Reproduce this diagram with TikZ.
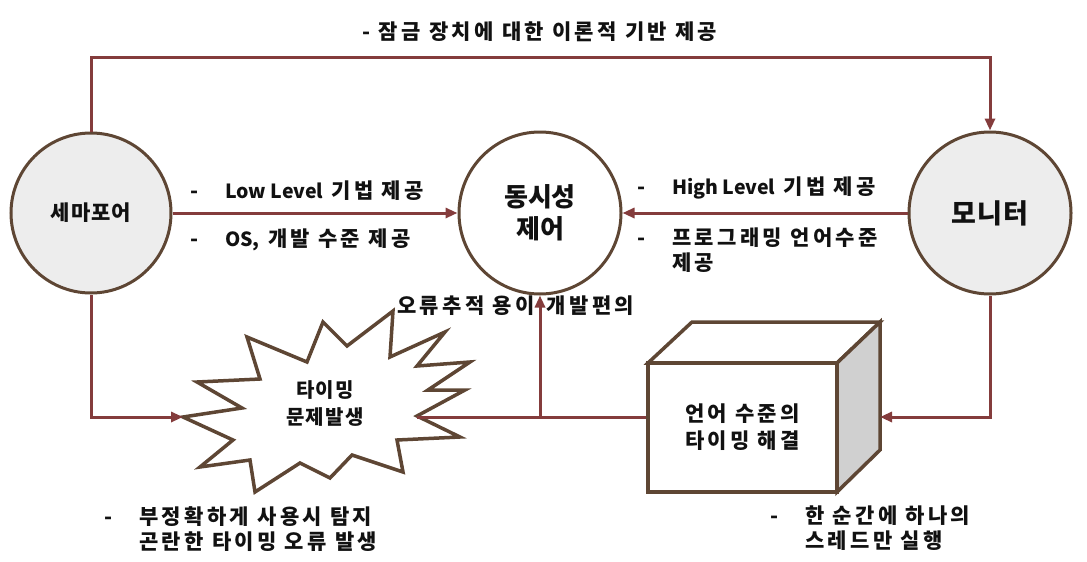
\documentclass[tikz,border=0pt]{standalone}
\usepackage{fontspec}
\setmainfont{Noto Sans CJK KR}
\newfontfamily\latfont{Noto Sans CJK KR}
\newcommand\lat[1]{{\latfont\bfseries\fontsize{19.5}{25}\selectfont #1}}
\usetikzlibrary{arrows.meta}
\definecolor{conn}{HTML}{843C3C}
\definecolor{edge}{HTML}{5E4634}
\definecolor{cfill}{HTML}{EDEDED}
\definecolor{side}{HTML}{D0D0D0}
\definecolor{ink}{HTML}{111111}
\tikzset{
  circ/.style={circle, draw=edge, line width=3pt, inner sep=0pt, align=center, text=ink},
  link/.style={draw=conn, line width=3pt},
  arr/.style={link, -{Triangle[length=12pt,width=10pt]}},
  lbl/.style={text=ink, font=\bfseries\fontsize{21}{25}\selectfont\addfontfeature{LetterSpace=16}, inner sep=0pt, align=left},
  boxface/.style={draw=edge, line width=3.5pt, line join=miter},
}
\begin{document}
\begin{tikzpicture}[x=1pt,y=-1pt]
\useasboundingbox (0,0) rectangle (1087,562);
% circles
\node[circ, fill=cfill, minimum size=160pt, font=\bfseries\fontsize{21}{27}\selectfont\addfontfeature{LetterSpace=5}] (sem) at (91,213) {세마포어};
\node[circ, fill=white, minimum size=162pt, font=\bfseries\fontsize{26}{32}\selectfont] (ctl) at (540,213) {동시성\\제어};
\node[circ, fill=cfill, minimum size=162pt, font=\bfseries\fontsize{27}{32}\selectfont\addfontfeature{LetterSpace=3}] (mon) at (990,213) {모니터};
% starburst
\draw[draw=edge, fill=white, line width=3.5pt, line join=miter]
  (183,417) -- (242,408) -- (197,382) -- (260,379) -- (247,337) -- (307,362) --
  (323,322) -- (347,346) -- (393,311) -- (390,357) -- (445,332) -- (417,366) --
  (470,362) -- (428,390) -- (465,390) -- (417,416) -- (460,437) -- (397,440) --
  (403,472) -- (352,455) -- (330,478) -- (300,463) -- (255,492) -- (250,460) --
  (200,467) -- (233,440) -- cycle;
\node[text=ink, inner sep=0pt, align=center, font=\bfseries\fontsize{20}{27}\selectfont\addfontfeature{LetterSpace=7}] (burst) at (325,404) {타이밍\\문제발생};
\coordinate (bL) at (183,417);
\coordinate (bR) at (417,417);
% box
\draw[boxface, fill=white] (648,363) -- (692,322) -- (880,322) -- (837,363) -- cycle;
\draw[boxface, fill=side] (837,363) -- (880,322) -- (880,450) -- (837,492) -- cycle;
\node[boxface, fill=white, minimum width=189pt, minimum height=129pt, inner sep=0pt, align=center, text=ink, font=\bfseries\fontsize{21}{27}\selectfont\addfontfeature{LetterSpace=16}] (box) at (742.5,427.5) {언어 수준의\\타이밍 해결};
\coordinate (boxR) at (880,417);
% connectors
\coordinate (topL) at (91,57);
\coordinate (topR) at (990,57);
\draw[arr] (sem.north) -- (topL) -- (topR) -- (mon.north);
\draw[arr] (sem.east) -- (ctl.west);
\draw[arr] (mon.west) -- (ctl.east);
\draw[arr] (sem.south) |- (bL);
\draw[link] (bR) -- (bR -| box.west);
\coordinate (jn) at (540,417);
\draw[arr] (mon.south) |- (boxR);
% labels
\node[lbl, anchor=center] (ttop) at (540,32) {- 잠금 장치에 대한 이론적 기반 제공};
\node[lbl, anchor=west] (tlow) at (190,191) {\makebox[35pt][l]{-}\lat{Low Level} 기법 제공};
\node[lbl, anchor=west] (tos) at (190,240) {\makebox[35pt][l]{-}\lat{OS,} 개발 수준 제공};
\node[lbl, anchor=west] (thigh) at (637,188) {\makebox[35pt][l]{-}\lat{High Level} 기법 제공};
\node[lbl, anchor=north west] (tprog) at (637,228) {\makebox[35pt][l]{-}프로그래밍 언어수준\\\makebox[35pt][l]{}제공};
\node[lbl, anchor=west] (terr) at (397,306) {오류추적 용이\hspace{12pt}개발편의};
\draw[arr] (jn) -- (ctl.south);
\node[lbl, anchor=north west] (tbl) at (104,506) {\makebox[35pt][l]{-}부정확하게 사용시 탐지\\\makebox[35pt][l]{}곤란한 타이밍 오류 발생};
\node[lbl, anchor=north west] (tbr) at (770,506) {\makebox[35pt][l]{-}한 순간에 하나의\\\makebox[35pt][l]{}스레드만 실행};
\end{tikzpicture}
\end{document}
